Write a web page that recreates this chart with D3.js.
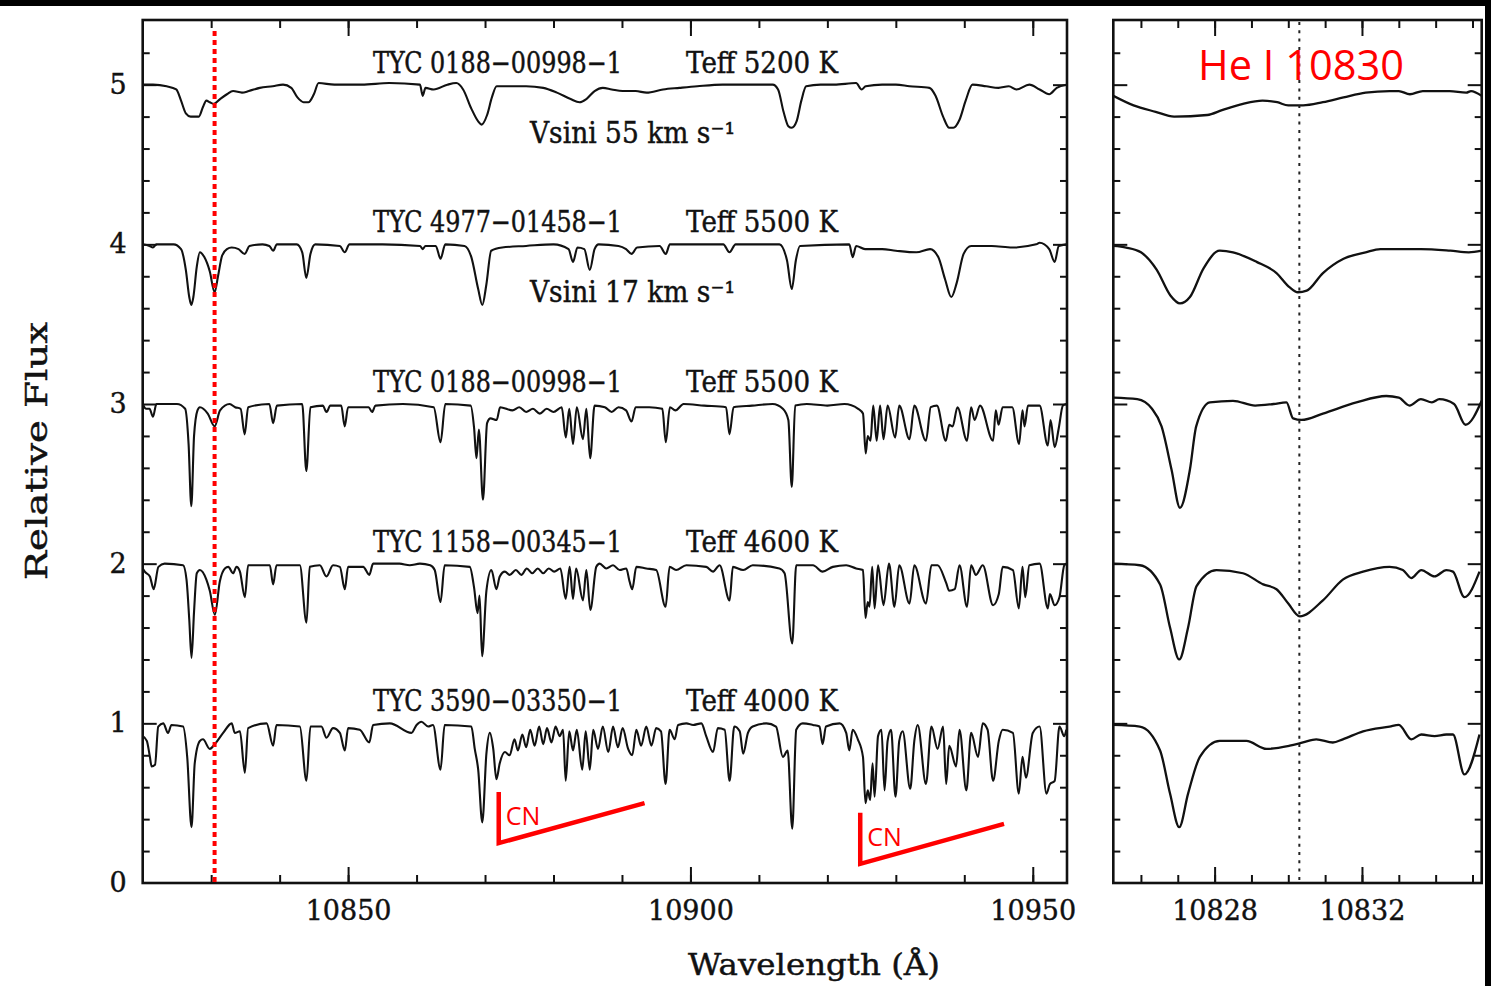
<!DOCTYPE html>
<html>
<head>
<meta charset="utf-8">
<script src="https://cdn.jsdelivr.net/npm/d3@7"></script>
<style>
  html, body { margin: 0; padding: 0; background: #fff; }
  svg { display: block; }
</style>
</head>
<body>
<svg id="chart" width="1491" height="986"></svg>
<script>
// ---- Spectra: [wavelength (Å), relative flux + offset] ----
const spec5200 = [[10820.0,5.00],[10821.5,5.00],[10823.5,4.99],[10824.9,4.97],[10825.6,4.90],[10826.3,4.82],[10827.0,4.80],[10828.2,4.80],[10828.8,4.86],[10829.3,4.90],[10829.8,4.89],[10830.4,4.88],[10831.3,4.91],[10832.3,4.94],[10833.2,4.96],[10834.5,4.95],[10835.5,4.96],[10837.1,4.98],[10839.0,4.99],[10840.5,5.00],[10841.7,4.98],[10842.6,4.92],[10843.5,4.89],[10844.2,4.89],[10845.0,4.94],[10845.7,5.01],[10848,5.00],[10852,5.00],[10856,5.01],[10860.5,5.00],[10860.9,4.93],[10861.3,4.98],[10862.5,4.97],[10864.5,5.00],[10865.8,5.01],[10866.8,4.97],[10868.0,4.85],[10869.0,4.77],[10869.5,4.75],[10870.3,4.81],[10871.0,4.92],[10871.7,4.99],[10874,4.99],[10876,4.99],[10878.5,4.98],[10880.5,4.95],[10882.5,4.91],[10883.8,4.89],[10884.8,4.91],[10886.0,4.96],[10887.2,4.98],[10888.5,4.97],[10890.1,4.96],[10892.0,4.96],[10893.6,4.95],[10896,4.97],[10898.4,4.98],[10901,4.99],[10904.7,5.00],[10908,5.00],[10912.0,5.00],[10912.8,4.97],[10913.6,4.83],[10914.3,4.74],[10914.8,4.73],[10915.5,4.77],[10916.2,4.90],[10916.9,4.99],[10919,5.00],[10921,5.00],[10924.2,5.01],[10925.0,4.97],[10925.6,4.99],[10928,5.00],[10930,5.00],[10932,4.99],[10934.9,4.98],[10935.8,4.93],[10936.9,4.80],[10937.8,4.73],[10938.4,4.73],[10939.3,4.78],[10940.2,4.90],[10941.2,5.00],[10943.2,4.99],[10945.0,4.98],[10946.5,4.99],[10947.6,4.97],[10949.5,5.00],[10951.0,4.97],[10952.4,4.94],[10953.5,4.98],[10954.9,5.00]];

const spec5500a = [[10820.0,4.00],[10821.0,3.99],[10821.5,3.98],[10822.0,4.00],[10824.5,4.00],[10825.6,3.97],[10826.3,3.84],[10826.8,3.67],[10827.1,3.62],[10827.4,3.67],[10827.9,3.86],[10828.35,3.95],[10829.0,3.92],[10829.8,3.83],[10830.5,3.70],[10831.0,3.80],[10831.6,3.93],[10832.3,3.97],[10833.0,3.98],[10834.0,3.97],[10834.9,3.94],[10835.6,3.99],[10837.5,4.00],[10838.5,3.99],[10839.05,3.96],[10839.6,4.00],[10842.5,4.00],[10843.3,3.95],[10843.9,3.79],[10844.5,3.94],[10845.2,4.00],[10848.8,3.99],[10849.5,3.95],[10850.2,4.00],[10855,4.00],[10860.5,3.99],[10860.9,3.97],[10861.3,3.99],[10862.8,3.99],[10863.5,3.91],[10864.2,4.00],[10867.0,3.99],[10868.0,3.92],[10869.0,3.72],[10869.6,3.62],[10870.2,3.75],[10870.9,3.96],[10872.5,3.98],[10876,3.99],[10880,4.00],[10882.2,3.97],[10882.85,3.89],[10883.5,3.98],[10884.5,3.97],[10885.3,3.84],[10886.0,3.97],[10886.6,4.00],[10889.5,3.99],[10890.6,3.97],[10891.4,3.94],[10892.2,3.98],[10895.5,3.99],[10896.4,3.94],[10897.0,4.00],[10904.8,4.00],[10905.7,3.95],[10906.6,4.00],[10913.0,4.00],[10914.1,3.90],[10914.8,3.72],[10915.4,3.90],[10916.0,3.99],[10923.2,4.00],[10923.7,3.92],[10924.2,3.99],[10925.5,3.97],[10928,3.97],[10930,3.96],[10933,3.95],[10935.0,3.97],[10936.2,3.92],[10937.2,3.78],[10938.1,3.67],[10938.9,3.76],[10939.9,3.94],[10941.0,3.99],[10944,3.99],[10947,3.98],[10950.5,4.00],[10951.0,4.01],[10952.4,3.97],[10953.2,3.89],[10953.8,3.99],[10954.9,4.00]];

const spec5500b = [[10820.0,3.00],[10820.5,2.97],[10821.0,2.97],[10821.5,2.92],[10822.0,3.00],[10825.0,3.00],[10826.2,2.97],[10826.7,2.75],[10827.1,2.36],[10827.5,2.80],[10828.0,2.96],[10828.35,2.98],[10829.5,2.94],[10830.5,2.86],[10831.3,2.96],[10832.7,3.00],[10833.5,2.98],[10834.3,2.97],[10834.9,2.81],[10835.4,2.98],[10838.5,3.00],[10839.05,2.88],[10839.6,2.99],[10843.3,3.00],[10843.9,2.58],[10844.5,2.98],[10846.3,2.99],[10846.85,2.95],[10847.4,2.99],[10849.0,2.99],[10849.5,2.86],[10850.0,2.98],[10853.0,2.98],[10853.5,2.95],[10854.0,2.99],[10858,3.00],[10862.5,2.98],[10863.5,2.76],[10864.2,3.00],[10867.9,2.99],[10868.4,2.85],[10868.75,2.66],[10869.1,2.84],[10869.7,2.40],[10870.3,2.88],[10870.8,2.91],[10871.7,2.90],[10872.2,2.98],[10874,2.96],[10875,2.98],[10876,2.95],[10877,2.97],[10878,2.94],[10879,2.97],[10880,2.95],[10881.2,2.98],[10881.8,2.79],[10882.3,2.97],[10882.85,2.75],[10883.4,2.98],[10884.3,2.78],[10884.8,2.97],[10885.35,2.66],[10886.0,2.99],[10887.5,2.98],[10888.5,2.95],[10889.5,2.98],[10890.6,2.96],[10891.4,2.89],[10892.0,2.98],[10894,2.98],[10895.9,2.97],[10896.4,2.76],[10897.0,2.98],[10897.8,2.96],[10899,3.00],[10902,2.99],[10905.2,2.98],[10905.7,2.81],[10906.3,2.98],[10909,2.99],[10912,3.00],[10913.5,2.97],[10914.3,2.90],[10914.8,2.48],[10915.3,2.99],[10917,3.00],[10920,2.99],[10922.5,3.00],[10924.5,2.97],[10925.2,2.94],[10925.6,2.69],[10925.9,2.80],[10926.3,2.77],[10926.7,2.99],[10927.2,2.77],[10927.7,2.99],[10928.2,2.78],[10928.8,2.99],[10929.9,2.79],[10930.5,2.99],[10932.0,2.78],[10932.7,2.99],[10934.4,2.77],[10935.1,2.98],[10936.0,2.99],[10937.3,2.77],[10937.8,2.87],[10938.3,2.86],[10939.0,2.98],[10940.4,2.77],[10941.0,2.98],[10941.5,2.90],[10942.3,2.99],[10944.2,2.77],[10944.6,2.96],[10945.0,2.87],[10945.6,2.98],[10947.0,2.98],[10948.0,2.75],[10948.5,2.96],[10948.8,2.86],[10949.3,2.99],[10951.0,2.99],[10952.2,2.74],[10952.6,2.90],[10953.2,2.73],[10953.8,2.85],[10954.4,2.99],[10954.9,3.00]];

const spec4600 = [[10820.0,1.97],[10820.3,1.95],[10821.05,1.92],[10821.6,1.84],[10822.3,1.98],[10823.2,2.00],[10825.9,1.99],[10826.4,1.90],[10826.8,1.65],[10827.13,1.41],[10827.5,1.70],[10827.9,1.94],[10828.35,1.96],[10829.3,1.90],[10829.8,1.83],[10830.54,1.68],[10831.27,1.89],[10832.0,1.97],[10832.5,1.98],[10833.2,1.94],[10833.7,1.98],[10834.2,1.95],[10834.92,1.79],[10835.4,1.99],[10838.57,1.99],[10839.05,1.87],[10839.54,1.99],[10842.95,1.99],[10843.92,1.63],[10844.4,1.98],[10845.87,1.99],[10846.84,1.92],[10847.8,1.99],[10848.8,1.98],[10849.52,1.84],[10850.0,1.98],[10852.2,1.98],[10853.1,1.93],[10853.65,2.00],[10857.5,2.00],[10859,1.99],[10860.5,2.00],[10862.0,1.99],[10862.65,1.96],[10863.5,1.76],[10864.1,1.99],[10867.77,1.98],[10868.4,1.85],[10868.9,1.69],[10869.2,1.80],[10869.57,1.42],[10870.2,1.83],[10870.93,1.96],[10871.66,1.84],[10872.15,1.92],[10872.9,1.95],[10873.6,1.93],[10874.5,1.96],[10875.3,1.93],[10876.1,1.97],[10876.9,1.94],[10877.7,1.97],[10878.5,1.94],[10879.3,1.97],[10880.1,1.95],[10881.0,1.97],[10881.78,1.78],[10882.36,1.98],[10882.85,1.78],[10883.3,1.97],[10884.3,1.77],[10884.8,1.96],[10885.38,1.71],[10886.25,1.98],[10886.74,2.00],[10887.7,1.97],[10888.7,1.99],[10889.66,1.96],[10890.63,1.97],[10891.1,1.89],[10891.5,1.84],[10892.1,1.98],[10893.55,1.97],[10895.0,1.96],[10896.37,1.73],[10896.96,1.98],[10897.9,1.96],[10899.4,1.99],[10902.3,1.98],[10903.3,1.95],[10904.26,1.99],[10905.72,1.77],[10906.2,1.98],[10907.7,1.96],[10909.1,1.99],[10913.0,1.97],[10913.75,1.94],[10914.87,1.50],[10915.45,1.99],[10917.9,1.99],[10919.3,1.95],[10920.8,1.98],[10922.75,1.99],[10924.2,1.97],[10925.2,1.96],[10925.57,1.66],[10925.9,1.76],[10926.15,1.73],[10926.55,1.98],[10926.9,1.72],[10927.4,1.99],[10928.2,1.74],[10929.0,2.00],[10929.8,1.73],[10930.5,1.99],[10932.0,1.75],[10932.7,1.99],[10934.4,1.75],[10935.2,1.99],[10936.1,1.99],[10937.35,1.88],[10937.8,1.83],[10938.6,1.84],[10939.3,1.99],[10940.4,1.73],[10941.0,1.99],[10941.7,1.93],[10942.7,1.99],[10944.2,1.74],[10945.04,1.81],[10945.6,1.98],[10947.1,1.96],[10947.96,1.72],[10948.5,1.98],[10948.9,1.79],[10949.5,1.99],[10951.0,2.00],[10952.2,1.72],[10952.5,1.81],[10953.2,1.74],[10953.9,1.79],[10954.6,1.99],[10954.9,2.00]];

const spec4000 = [[10820.0,0.92],[10820.6,0.89],[10821.05,0.79],[10821.3,0.73],[10821.8,0.74],[10822.27,0.98],[10823.0,1.00],[10823.7,0.94],[10824.2,0.99],[10825.9,0.98],[10826.5,0.79],[10827.13,0.35],[10827.6,0.75],[10828.35,0.89],[10828.8,0.90],[10829.8,0.84],[10830.54,0.87],[10831.75,0.94],[10833.0,1.00],[10833.45,0.94],[10834.2,0.95],[10834.92,0.69],[10835.4,0.97],[10838.1,1.00],[10839.05,0.86],[10839.54,0.99],[10842.95,0.98],[10843.92,0.64],[10844.5,0.98],[10846.1,0.98],[10846.84,0.91],[10847.8,0.97],[10848.8,0.94],[10849.52,0.83],[10850.0,0.97],[10851.7,0.96],[10853.1,0.88],[10853.65,0.99],[10856.1,1.00],[10859.25,0.94],[10860.0,0.99],[10860.7,1.01],[10861.7,0.98],[10862.4,0.99],[10863.5,0.71],[10864.1,0.99],[10868.0,0.98],[10868.5,0.84],[10869.0,0.71],[10869.6,0.38],[10870.2,0.81],[10870.7,0.94],[10871.2,0.84],[10871.66,0.65],[10872.15,0.75],[10872.9,0.82],[10873.6,0.80],[10874.3,0.90],[10874.8,0.83],[10875.45,0.93],[10876.0,0.85],[10876.6,0.96],[10877.25,0.86],[10877.9,0.98],[10878.5,0.87],[10879.05,0.97],[10879.7,0.88],[10880.3,0.98],[10880.9,0.92],[10881.4,0.96],[10881.78,0.64],[10882.3,0.95],[10882.85,0.83],[10883.4,0.96],[10884.2,0.71],[10884.7,0.95],[10885.3,0.71],[10885.8,0.96],[10886.5,0.84],[10887.2,0.98],[10888.0,0.82],[10888.7,0.98],[10889.4,0.85],[10890.1,0.97],[10890.9,0.84],[10891.5,0.80],[10892.1,0.96],[10892.8,0.86],[10893.55,0.98],[10894.3,0.86],[10895.0,0.97],[10895.7,0.95],[10896.37,0.62],[10896.96,0.96],[10897.7,0.90],[10898.2,0.99],[10899.4,1.00],[10900.4,0.99],[10901.6,1.00],[10902.3,0.92],[10903.3,0.82],[10904.0,0.97],[10905.0,0.96],[10905.72,0.64],[10906.4,0.98],[10907.2,0.95],[10907.7,0.81],[10908.4,0.94],[10909.1,0.98],[10911.1,1.00],[10912.5,0.98],[10913.5,0.79],[10914.2,0.83],[10914.87,0.34],[10915.45,0.96],[10916.4,1.00],[10917.9,0.99],[10918.85,0.98],[10919.3,0.87],[10919.8,0.98],[10921.8,1.00],[10922.75,0.94],[10923.2,0.83],[10923.7,0.96],[10924.45,0.90],[10925.2,0.79],[10925.57,0.50],[10925.9,0.58],[10926.25,0.52],[10926.6,0.75],[10926.9,0.54],[10927.4,0.92],[10927.9,0.96],[10928.35,0.58],[10928.8,0.89],[10929.3,0.96],[10929.95,0.54],[10930.5,0.89],[10931.0,0.95],[10932.1,0.59],[10932.7,0.89],[10933.2,0.99],[10934.4,0.62],[10935.2,0.98],[10936.1,0.84],[10936.9,0.98],[10937.35,0.62],[10937.8,0.86],[10938.8,0.73],[10939.3,0.96],[10940.3,0.58],[10941.0,0.94],[10942.0,0.79],[10942.7,1.00],[10943.4,0.96],[10944.2,0.64],[10945.04,0.89],[10945.6,0.96],[10947.1,0.94],[10947.96,0.56],[10948.5,0.79],[10949.0,0.66],[10950.0,0.94],[10951.0,0.98],[10952.0,0.56],[10952.5,0.62],[10953.2,0.64],[10953.9,0.98],[10954.6,0.92],[10954.9,0.96]];

// ---- He I 10830 close-up, same stars and offsets ----
const he5200 = [[10825.25,4.93],[10825.8,4.87],[10826.4,4.83],[10826.9,4.80],[10827.8,4.81],[10828.2,4.84],[10828.77,4.88],[10829.3,4.90],[10829.7,4.89],[10830.0,4.87],[10830.4,4.87],[10830.94,4.89],[10831.5,4.92],[10832.1,4.95],[10832.75,4.96],[10833.0,4.96],[10833.3,4.94],[10833.65,4.96],[10834.38,4.96],[10834.83,4.95],[10834.96,4.96],[10835.25,4.93]];
const he5500a = [[10825.25,3.99],[10825.6,3.98],[10826.0,3.95],[10826.43,3.84],[10826.8,3.68],[10827.06,3.63],[10827.33,3.67],[10827.7,3.85],[10828.14,3.96],[10828.5,3.95],[10829.14,3.89],[10829.68,3.82],[10830.04,3.73],[10830.26,3.70],[10830.5,3.71],[10830.94,3.82],[10831.5,3.91],[10832.1,3.95],[10832.5,3.97],[10833.0,3.97],[10833.6,3.97],[10834.4,3.96],[10834.9,3.95],[10835.25,3.96]];
const he5500b = [[10825.25,3.04],[10825.9,3.03],[10826.3,2.97],[10826.56,2.86],[10826.83,2.59],[10827.06,2.35],[10827.33,2.59],[10827.5,2.86],[10827.87,3.01],[10828.5,3.02],[10829.1,2.99],[10829.6,3.00],[10829.95,3.01],[10830.13,2.91],[10830.36,2.90],[10830.94,2.94],[10831.85,3.01],[10832.66,3.05],[10833.0,3.04],[10833.29,2.99],[10833.6,3.03],[10833.9,3.01],[10834.1,3.03],[10834.5,3.00],[10834.81,2.87],[10835.25,3.02]];
const he4600 = [[10825.25,2.00],[10825.97,1.99],[10826.52,1.87],[10826.79,1.60],[10827.04,1.40],[10827.28,1.60],[10827.51,1.86],[10828.05,1.96],[10828.77,1.94],[10829.32,1.87],[10829.68,1.84],[10830.0,1.75],[10830.31,1.67],[10830.94,1.77],[10831.48,1.90],[10832.03,1.95],[10832.75,1.98],[10833.11,1.96],[10833.34,1.91],[10833.61,1.96],[10833.97,1.92],[10834.29,1.96],[10834.47,1.95],[10834.78,1.79],[10835.19,1.95]];
const he4000 = [[10825.25,0.99],[10825.97,0.98],[10826.52,0.83],[10826.79,0.56],[10827.04,0.35],[10827.28,0.56],[10827.6,0.79],[10828.14,0.89],[10828.86,0.89],[10829.41,0.84],[10830.04,0.86],[10830.4,0.88],[10830.76,0.90],[10831.21,0.88],[10831.48,0.90],[10832.03,0.95],[10832.75,0.98],[10833.0,0.99],[10833.34,0.90],[10833.61,0.93],[10833.97,0.92],[10834.29,0.93],[10834.47,0.93],[10834.78,0.68],[10835.19,0.93]];

// ---- Labels ----
const starIds = ["TYC 0188\u221200998\u22121", "TYC 4977\u221201458\u22121", "TYC 0188\u221200998\u22121", "TYC 1158\u221200345\u22121", "TYC 3590\u221203350\u22121"];
const teffK = [5200, 5500, 5500, 4600, 4000];
const offsetLevel = [5, 4, 3, 2, 1];
const vsiniKms = [55, 17, null, null, null];
const fluxTicks = [0, 1, 2, 3, 4, 5];
const mainWaveTicks = [10850, 10900, 10950];
const heWaveTicks = [10828, 10832];
const heLine = 10830.3;
const heMarkerMain = 10830.5;
// CN band-head markers: [start λ, top flux, corner flux, end λ, end flux]
const cnMarks = [[10872.0, 0.57, 0.25, 10893.3, 0.50], [10924.8, 0.44, 0.12, 10945.8, 0.37]];

const serif = "'DejaVu Serif', serif";
const sans = "'Open Sans', 'Noto Sans', sans-serif";
const ink = "#111";

const svg = d3.select("#chart");

// Scales
const xMain = d3.scaleLinear().domain([10820, 10955]).range([142.7, 1067]);
const xHe = d3.scaleLinear().domain([10825.25, 10835.25]).range([1113.3, 1481.7]);
const yFlux = d3.scaleLinear().domain([0, 5.405]).range([883, 20]);

function drawFrame(x, majorX, minorX, labelX, labelY) {
  const g = svg.append("g");
  const [x0, x1] = x.range();
  const [yb, yt] = yFlux.range();
  const minorY = d3.range(0.2, 5.4, 0.2).filter(v => Math.abs(v - Math.round(v)) > 0.05);
  const inside = v => x(v) > x0 + 1 && x(v) < x1 - 1;

  const axes = [
    [d3.axisBottom(x), yb, "x"], [d3.axisTop(x), yt, "x"],
    [d3.axisLeft(yFlux), x0, "y"], [d3.axisRight(yFlux), x1, "y"]
  ];
  axes.forEach(([ax, pos, dim], i) => {
    const isX = dim === "x";
    const tr = isX ? `translate(0,${pos})` : `translate(${pos},0)`;
    // minor ticks
    g.append("g").attr("transform", tr)
      .call(ax.tickValues(isX ? minorX.filter(inside) : minorY).tickSize(isX ? -8 : -7).tickSizeOuter(0).tickFormat(""))
      .call(s => s.select(".domain").remove());
    // major ticks
    const majors = isX ? majorX : fluxTicks.filter(v => v > 0);
    const sub = g.append("g").attr("transform", tr)
      .call(ax.tickValues(majors).tickSize(isX ? -16 : -14).tickSizeOuter(0)
        .tickPadding(isX ? 18 : 16)
        .tickFormat(((isX && i === 0 && labelX) || (!isX && i === 2 && labelY)) ? d3.format("d") : ""))
      .call(s => s.select(".domain").remove());
    sub.selectAll("text").attr("font-family", serif).attr("font-size", 27)
      .attr("fill", ink).attr("stroke", ink).attr("stroke-width", 0.4);
  });
  g.selectAll(".tick line").attr("stroke", ink).attr("stroke-width", 2);

  if (labelY) {
    // zero label sits at the corner
    g.append("text").attr("x", x0 - 16).attr("y", yb).attr("dy", "0.32em")
      .attr("text-anchor", "end").attr("font-family", serif).attr("font-size", 27)
      .attr("fill", ink).attr("stroke", ink).attr("stroke-width", 0.4).text("0");
  }
  g.append("rect").attr("x", x0).attr("y", yt).attr("width", x1 - x0).attr("height", yb - yt)
    .attr("fill", "none").attr("stroke", ink).attr("stroke-width", 2.6);
}

drawFrame(xMain, mainWaveTicks, d3.range(10830, 10955, 10), true, true);
drawFrame(xHe, heWaveTicks, d3.range(10826, 10836, 1), true, false);

// Spectra
const lineMain = d3.line().x(d => xMain(d[0])).y(d => yFlux(d[1])).curve(d3.curveMonotoneX);
const lineHe = d3.line().x(d => xHe(d[0])).y(d => yFlux(d[1])).curve(d3.curveMonotoneX);

const mainSet = [spec5200, spec5500a, spec5500b, spec4600, spec4000];
const heSet = [he5200, he5500a, he5500b, he4600, he4000];

const defs = svg.append("defs");
defs.append("clipPath").attr("id", "clipMain")
  .append("rect").attr("x", xMain.range()[0]).attr("y", 20).attr("width", xMain.range()[1] - xMain.range()[0]).attr("height", 863);
defs.append("clipPath").attr("id", "clipHe")
  .append("rect").attr("x", xHe.range()[0]).attr("y", 20).attr("width", xHe.range()[1] - xHe.range()[0]).attr("height", 863);

svg.append("g").attr("clip-path", "url(#clipMain)")
  .selectAll("path").data(mainSet).join("path")
  .attr("d", lineMain).attr("fill", "none").attr("stroke", ink)
  .attr("stroke-width", 2.1).attr("stroke-linejoin", "round");

svg.append("g").attr("clip-path", "url(#clipHe)")
  .selectAll("path").data(heSet).join("path")
  .attr("d", lineHe).attr("fill", "none").attr("stroke", ink)
  .attr("stroke-width", 2.3).attr("stroke-linejoin", "round");

// He I line position in the close-up
svg.append("line")
  .attr("x1", xHe(heLine)).attr("x2", xHe(heLine)).attr("y1", 22).attr("y2", 882)
  .attr("stroke", "#222").attr("stroke-width", 2).attr("stroke-dasharray", "3,5.3");

// Star labels
const lab = svg.append("g").attr("font-family", serif).attr("fill", ink)
  .attr("stroke", ink).attr("stroke-width", 0.45).attr("font-size", 29);
offsetLevel.forEach((lev, i) => {
  const yb = yFlux(lev) - 12;
  lab.append("text").attr("x", 373).attr("y", yb).attr("textLength", 249).attr("lengthAdjust", "spacingAndGlyphs").text(starIds[i]);
  lab.append("text").attr("x", 686).attr("y", yb).attr("textLength", 152).attr("lengthAdjust", "spacingAndGlyphs").text(`Teff  ${teffK[i]}  K`);
  if (vsiniKms[i] !== null) {
    lab.append("text").attr("x", 530).attr("y", yFlux(lev) + 58)
      .attr("textLength", 205).attr("lengthAdjust", "spacingAndGlyphs")
      .text(`Vsini  ${vsiniKms[i]}  km  s\u207B\u00B9`);
  }
});

// Axis titles
svg.append("text").attr("transform", "translate(47,451) rotate(-90)")
  .attr("text-anchor", "middle").attr("font-family", serif).attr("font-size", 29)
  .attr("fill", ink).attr("stroke", ink).attr("stroke-width", 0.45)
  .attr("textLength", 258).attr("lengthAdjust", "spacingAndGlyphs").text("Relative  Flux");
svg.append("text").attr("x", 814).attr("y", 975)
  .attr("text-anchor", "middle").attr("font-family", serif).attr("font-size", 29)
  .attr("fill", ink).attr("stroke", ink).attr("stroke-width", 0.45)
  .attr("textLength", 252).attr("lengthAdjust", "spacingAndGlyphs").text("Wavelength  (\u00c5)");

// He I 10830 marker across the full spectrum panel
svg.append("line")
  .attr("x1", xMain(heMarkerMain)).attr("x2", xMain(heMarkerMain))
  .attr("y1", 31).attr("y2", 883)
  .attr("stroke", "#ff0000").attr("stroke-width", 4).attr("stroke-dasharray", "5,4");

// CN band markers
const cn = svg.append("g");
cnMarks.forEach(([l0, top, corner, l1, end]) => {
  cn.append("path")
    .attr("d", `M${xMain(l0)},${yFlux(top)} L${xMain(l0)},${yFlux(corner)} L${xMain(l1)},${yFlux(end)}`)
    .attr("fill", "none").attr("stroke", "#ff0000").attr("stroke-width", 4.5);
  cn.append("text").attr("x", xMain(l0) + 7).attr("y", yFlux(corner) - 18)
    .attr("font-family", sans).attr("font-size", 25).attr("fill", "#ff0000").text("CN");
});

svg.append("text").attr("x", 1198).attr("y", 80)
  .attr("font-family", sans).attr("font-size", 42).attr("fill", "#ff0000")
  .attr("textLength", 206).attr("lengthAdjust", "spacingAndGlyphs").text("He I 10830");

// Dark border along top and right edges of the figure
svg.append("rect").attr("x", 0).attr("y", 0).attr("width", 1491).attr("height", 6).attr("fill", "#000");
svg.append("rect").attr("x", 1485).attr("y", 0).attr("width", 6).attr("height", 986).attr("fill", "#000");
</script>
</body>
</html>
